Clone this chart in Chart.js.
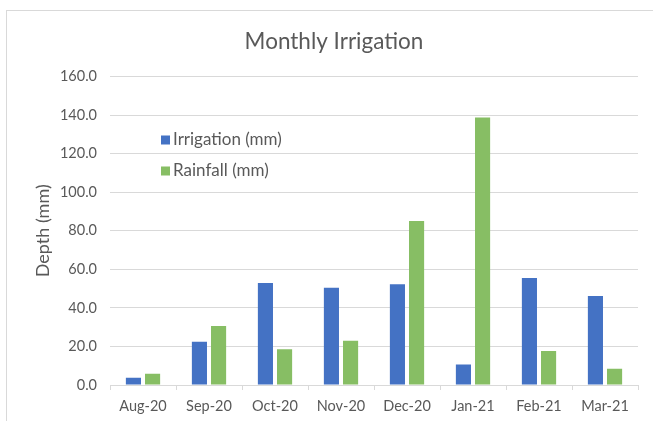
<!DOCTYPE html>
<html>
<head>
<meta charset="utf-8">
<script src="https://cdn.jsdelivr.net/npm/chart.js@4"></script>
<style>
    html, body { margin: 0; padding: 0; background: #fff; overflow: hidden; }
    #wrap { position: relative; width: 653px; height: 421px; }
    #frame { position: absolute; left: 6px; top: 10px; right: -2px; bottom: -2px; border: 1px solid #d9d9d9; }
    canvas { position: absolute; left: 0; top: 0; }
</style>
</head>
<body>
<div id="wrap">
    <div id="frame"></div>
    <canvas id="irrigationChart" width="653" height="421"></canvas>
</div>
<script>
const months = ["Aug-20", "Sep-20", "Oct-20", "Nov-20", "Dec-20", "Jan-21", "Feb-21", "Mar-21"];
const irrigation = [3.8, 22.4, 52.9, 50.5, 52.3, 10.6, 55.5, 46.1];
const rainfall = [5.8, 30.6, 18.5, 23.0, 85.1, 138.8, 17.6, 8.4];

const textColor = "#595959";
const gridColor = "#d9d9d9";
const fontFamily = "Lato, 'Open Sans', sans-serif";

// draws the legend inside the plot, like the Excel original
const insideLegend = {
    id: "insideLegend",
    afterDraw(chart, args, opts) {
        const ctx = chart.ctx;
        ctx.save();
        ctx.font = opts.fontSize + "px " + fontFamily;
        ctx.textBaseline = "middle";
        chart.data.datasets.forEach((ds, i) => {
            const y = opts.y + i * opts.rowGap;
            ctx.fillStyle = ds.backgroundColor;
            ctx.fillRect(opts.x, y - 4.5, 9, 9);
            ctx.fillStyle = textColor;
            ctx.fillText(ds.label, opts.x + 12, y);
        });
        ctx.restore();
    }
};

const ctx = document.getElementById("irrigationChart").getContext("2d");
new Chart(ctx, {
    type: "bar",
    data: {
        labels: months,
        datasets: [
            {
                label: "Irrigation (mm)",
                data: irrigation,
                backgroundColor: "#4472C4",
                barPercentage: 0.79,
                categoryPercentage: 0.58
            },
            {
                label: "Rainfall (mm)",
                data: rainfall,
                backgroundColor: "#87BE64",
                barPercentage: 0.79,
                categoryPercentage: 0.58
            }
        ]
    },
    options: {
        responsive: false,
        animation: false,
        layout: { padding: { left: 30, right: 15, top: 0, bottom: 0 } },
        plugins: {
            legend: { display: false },
            tooltip: { enabled: false },
            title: {
                display: true,
                text: "Monthly Irrigation",
                color: textColor,
                font: { family: fontFamily, size: 22.5, weight: "normal", lineHeight: 1.2 },
                padding: { top: 28.5, bottom: 21 }
            },
            insideLegend: { x: 161, y: 140, rowGap: 31, fontSize: 17 }
        },
        scales: {
            x: {
                grid: {
                    display: true,
                    drawOnChartArea: false,
                    drawTicks: true,
                    tickLength: 5,
                    color: gridColor,
                    offset: true
                },
                border: { display: true, color: gridColor },
                ticks: {
                    color: textColor,
                    font: { family: fontFamily, size: 14.5 },
                    padding: 8,
                    maxRotation: 0
                },
                afterFit(scale) { scale.height = 36; }
            },
            y: {
                min: 0,
                max: 160,
                grid: { color: gridColor, drawTicks: false },
                border: { display: false },
                ticks: {
                    stepSize: 20,
                    color: textColor,
                    font: { family: fontFamily, size: 14.5 },
                    padding: 13,
                    callback: (v) => v.toFixed(1)
                },
                title: {
                    display: true,
                    text: "Depth (mm)",
                    color: textColor,
                    font: { family: fontFamily, size: 18, lineHeight: 1.2 },
                    padding: { top: 2, bottom: 0 }
                },
                afterFit(scale) { scale.width = 80; }
            }
        }
    },
    plugins: [insideLegend]
});
</script>
</body>
</html>
